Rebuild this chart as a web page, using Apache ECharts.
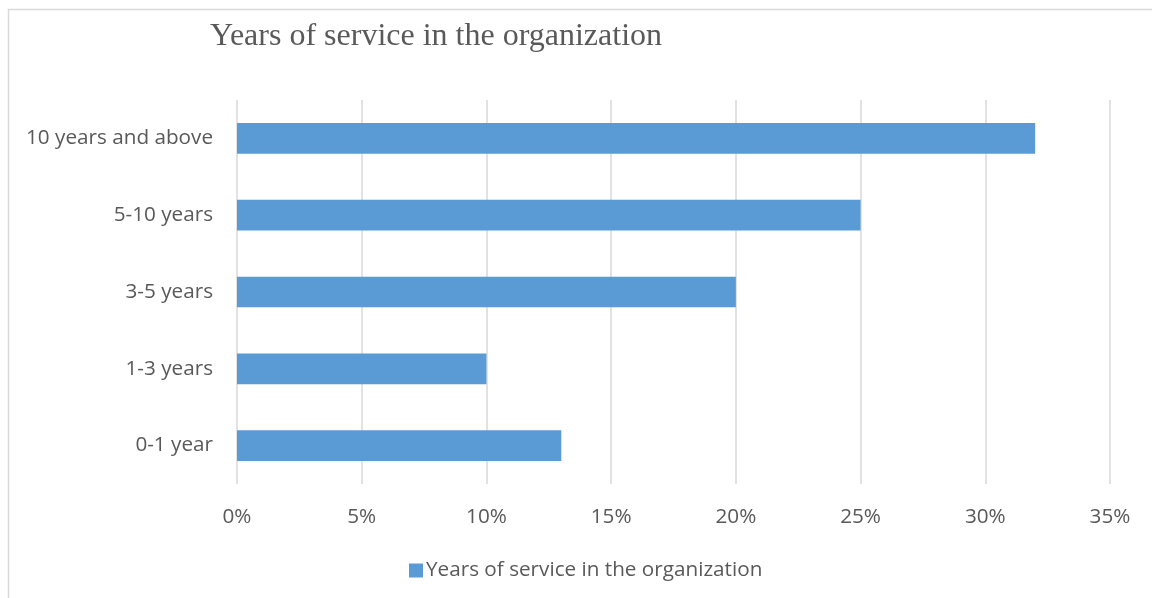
<!DOCTYPE html>
<html>
<head>
<meta charset="utf-8">
<script src="https://cdn.jsdelivr.net/npm/echarts@6/dist/echarts.min.js"></script>
<style>
  html, body { margin: 0; padding: 0; background: #fff; }
  #chart { width: 1152px; height: 598px; }
</style>
</head>
<body>
<div id="chart"></div>
<script>
// Years of service, share of respondents (%)
const categories = ['0-1 year', '1-3 years', '3-5 years', '5-10 years', '10 years and above'];
const shares = [13, 10, 20, 25, 32];
const seriesName = 'Years of service in the organization';
const chartTitle = 'Years of service in the organization';

const labelFont = '"Open Sans", "Liberation Sans", sans-serif';
const labelSize = 20.7;
const textColor = '#595959';

const chart = echarts.init(document.getElementById('chart'));
chart.setOption({
  animation: false,
  backgroundColor: '#fff',
  graphic: [{
    type: 'rect',
    shape: { x: 8.5, y: 9.5, width: 1200, height: 700 },
    style: { fill: 'none', stroke: '#d9d9d9', lineWidth: 1.5 },
    silent: true
  }],
  title: {
    text: chartTitle,
    left: 205,
    top: 16,
    textStyle: {
      fontFamily: '"Liberation Serif", "Times New Roman", serif',
      fontSize: 32,
      fontWeight: 'normal',
      color: textColor
    }
  },
  legend: {
    data: [seriesName],
    left: 404,
    top: 555,
    itemWidth: 14,
    itemHeight: 14,
    itemGap: 5,
    icon: 'rect',
    textStyle: { fontFamily: labelFont, fontSize: labelSize, color: textColor, padding: [0, 0, 0, -2] }
  },
  grid: { left: 237, right: 42, top: 100, bottom: 114, containLabel: false },
  xAxis: {
    type: 'value',
    min: 0,
    max: 35,
    interval: 5,
    axisLine: { show: false },
    axisTick: { show: false },
    splitLine: { lineStyle: { color: '#d9d9d9', width: 1.5 } },
    axisLabel: {
      formatter: '{value}%',
      margin: 23,
      fontFamily: labelFont,
      fontSize: labelSize,
      color: textColor
    }
  },
  yAxis: {
    type: 'category',
    data: categories,
    axisLine: { show: false },
    axisTick: { show: false },
    axisLabel: {
      margin: 24,
      fontFamily: labelFont,
      fontSize: labelSize,
      color: textColor
    }
  },
  series: [{
    name: seriesName,
    type: 'bar',
    data: shares,
    barCategoryGap: '60%',
    itemStyle: { color: '#5b9bd5' }
  }]
});
</script>
</body>
</html>
